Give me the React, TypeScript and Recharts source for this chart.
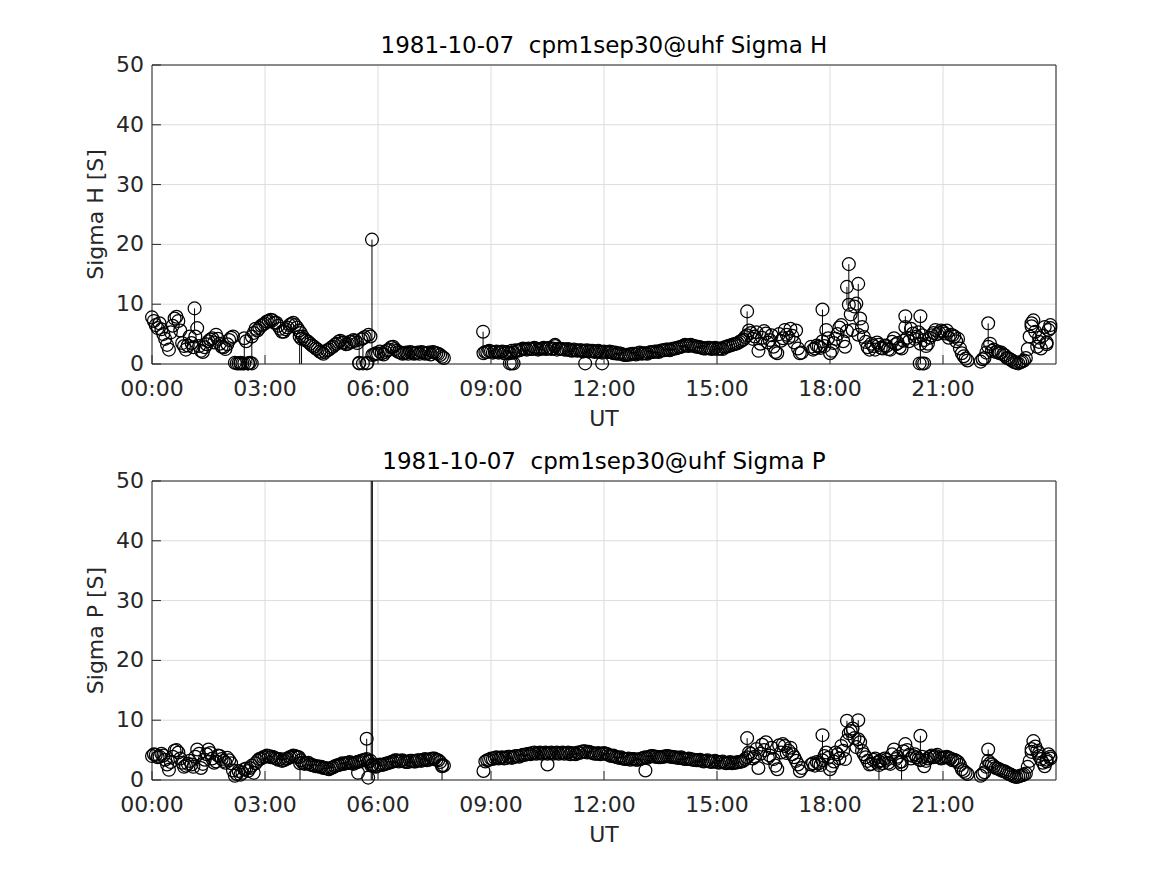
import { ScatterChart, Scatter, XAxis, YAxis, CartesianGrid, ErrorBar } from 'recharts';

const FONT = '"DejaVu Sans", sans-serif';
const INK = '#262626';
const W = 1167;
const H = 437;

// sample times, decimal UT hours (first pass of the record)
const hours = [
  0, 0.1, 0.2, 0.3, 0.4, 0.5, 0.6, 0.7, 0.8, 0.9,
  1.0, 1.1, 1.2, 1.3, 1.4, 1.5, 1.6, 1.7, 1.8, 1.9,
  2.0, 2.1, 2.2, 2.3, 2.4, 2.5, 2.6, 2.7, 2.8, 2.9,
  3.0, 3.1, 3.2, 3.3, 3.4, 3.5, 3.6, 3.7, 3.8, 3.9,
  4.0, 4.1, 4.2, 4.3, 4.4, 4.5, 4.6, 4.7, 4.8, 4.9,
  5.0, 5.1, 5.2, 5.3, 5.4, 5.5, 5.6, 5.7, 5.8, 5.9,
  6.0, 6.1, 6.2, 6.3, 6.4, 6.5, 6.6, 6.7, 6.8, 6.9,
  7.0, 7.1, 7.2, 7.3, 7.4, 7.5, 7.6, 7.7,
  8.8, 8.9, 9.0, 9.1, 9.2, 9.3, 9.4, 9.5, 9.6, 9.7,
  9.8, 9.9, 10.0, 10.1, 10.2, 10.3, 10.4, 10.5, 10.6, 10.7,
  10.8, 10.9, 11.0, 11.1, 11.2, 11.3, 11.4, 11.5, 11.6, 11.7,
  11.8, 11.9, 12.0, 12.1, 12.2, 12.3, 12.4, 12.5, 12.6, 12.7,
  12.8, 12.9, 13.0, 13.1, 13.2, 13.3, 13.4, 13.5, 13.6, 13.7,
  13.8, 13.9, 14.0, 14.1, 14.2, 14.3, 14.4, 14.5, 14.6, 14.7,
  14.8, 14.9, 15.0, 15.1, 15.2, 15.3, 15.4, 15.5, 15.6, 15.7,
  15.8, 15.9, 16.0, 16.1, 16.2, 16.3, 16.4, 16.5, 16.6, 16.7,
  16.8, 16.9, 17.0, 17.1, 17.2,
  17.5, 17.6, 17.7, 17.8, 17.9, 18.0, 18.1, 18.2, 18.3, 18.4,
  18.5, 18.6, 18.7, 18.8, 18.9, 19.0, 19.1, 19.2, 19.3, 19.4,
  19.5, 19.6, 19.7, 19.8, 19.9, 20.0, 20.1, 20.2, 20.3, 20.4,
  20.5, 20.6, 20.7, 20.8, 20.9, 21.0, 21.1, 21.2, 21.3, 21.4,
  21.5, 21.6,
  22.0, 22.1, 22.2, 22.3, 22.4, 22.5, 22.6, 22.7, 22.8, 22.9,
  23.0, 23.1, 23.2, 23.3, 23.4, 23.5, 23.6, 23.7, 23.8,
];

const sigmaH = [
  7.8, 6.5, 6.8, 5.0, 3.2, 5.3, 7.6, 7.2, 3.5, 2.4,
  4.6, 2.8, 6.0, 2.2, 2.8, 3.8, 4.3, 4.9, 3.4, 2.8,
  3.3, 4.4, 0.2, 0.1, 0.1, 3.8, 0.2, 5.2, 5.6, 6.4,
  6.8, 7.2, 7.3, 6.9, 5.9, 5.4, 6.1, 6.7, 6.5, 5.6,
  4.6, 3.9, 3.4, 2.9, 2.4, 1.9, 2.0, 2.4, 2.9, 3.4,
  3.9, 3.6, 3.4, 3.7, 3.9, 0.2, 4.3, 0.1, 4.6, 1.6,
  1.7, 1.8, 2.0, 2.4, 2.9, 2.2, 1.9, 1.8, 1.7, 1.9,
  1.8, 1.7, 1.9, 1.8, 1.6, 1.9, 1.7, 1.2,
  1.8, 2.0, 2.1, 2.0, 1.9, 2.1, 2.0, 1.8, 1.9, 2.2,
  2.4, 2.5, 2.6, 2.5, 2.6, 2.5, 2.7, 2.6, 2.5, 3.0,
  2.6, 2.5, 2.4, 2.3, 2.4, 2.2, 2.3, 2.2, 2.1, 2.2,
  2.1, 2.0, 2.1, 2.0, 2.0, 1.9, 1.8, 1.6, 1.5, 1.6,
  1.7, 1.8, 1.7, 1.8, 1.9, 2.0, 2.1, 2.2, 2.3, 2.4,
  2.5, 2.6, 2.8, 3.0, 3.1, 3.2, 3.0, 2.9, 2.7, 2.6,
  2.7, 2.6, 2.5, 2.6, 2.8, 3.0, 3.2, 3.4, 3.7, 4.1,
  4.8, 5.2, 4.6, 2.2, 4.4, 5.1, 4.0, 2.9, 1.8, 3.9,
  5.7, 4.4, 4.7, 5.6, 1.8,
  2.9, 2.6, 2.9, 3.8, 5.7, 1.8, 3.5, 5.0, 6.5, 2.9,
  9.9, 5.7, 10.1, 7.6, 4.5, 2.8, 3.4, 2.4, 3.2, 2.6,
  3.0, 2.4, 4.3, 3.5, 2.6, 6.2, 3.8, 5.1, 4.6, 3.4,
  4.0, 3.4, 4.8, 5.7, 5.2, 5.4, 5.6, 4.9, 4.6, 4.2,
  1.8, 0.9,
  0.4, 1.0, 2.9, 2.2, 2.0, 1.8, 1.6, 1.0, 0.7, 0.3,
  0.1, 0.4, 1.0, 4.6, 7.3, 2.9, 2.6, 6.2, 5.7,
];

const sigmaP = [
  4.0, 4.2, 3.9, 4.1, 2.6, 3.0, 4.9, 4.6, 2.9, 2.4,
  3.2, 2.2, 5.1, 2.0, 3.4, 5.1, 3.6, 3.1, 4.0, 3.2,
  3.7, 2.8, 0.7, 1.5, 1.2, 1.9, 2.0, 1.2, 3.2, 3.6,
  3.9, 4.0, 3.9, 3.6, 3.5, 3.3, 3.6, 3.9, 4.0, 3.8,
  2.9, 2.8, 2.6, 2.4, 2.3, 2.2, 2.0, 1.8, 2.1, 2.4,
  2.6, 2.7, 2.9, 2.8, 2.9, 3.1, 3.3, 3.5, 3.2, 2.3,
  2.4, 2.5, 2.7, 2.9, 3.1, 3.3, 3.2, 3.1, 3.0, 3.2,
  3.1, 3.3, 3.4, 3.3, 3.5, 3.6, 3.3, 2.5,
  1.5, 3.3, 3.6, 3.7, 3.6, 3.8, 3.7, 3.9, 3.8, 4.0,
  4.1, 4.2, 4.4, 4.5, 4.4, 4.6, 4.5, 4.4, 4.6, 4.5,
  4.4, 4.6, 4.5, 4.3, 4.4, 4.6, 4.7, 4.8, 4.7, 4.5,
  4.4, 4.3, 4.5, 4.3, 4.0, 3.9, 3.7, 3.6, 3.5, 3.4,
  3.5, 3.4, 3.6, 3.8, 3.9, 4.0, 3.9, 3.8, 3.9, 4.0,
  3.9, 3.8, 3.7, 3.6, 3.5, 3.5, 3.4, 3.3, 3.2, 3.2,
  3.1, 3.1, 3.0, 3.0, 2.9, 2.9, 2.8, 2.9, 3.0, 3.2,
  3.8, 4.4, 3.9, 2.0, 5.9, 6.3, 4.1, 3.5, 1.8, 4.6,
  5.7, 4.9, 4.3, 3.2, 1.5,
  2.6, 2.4, 2.8, 3.3, 4.6, 1.8, 3.1, 4.3, 5.7, 3.5,
  7.8, 8.6, 5.5, 6.3, 4.3, 3.2, 2.7, 3.6, 3.1, 2.8,
  3.4, 2.7, 5.1, 3.9, 3.1, 6.0, 4.2, 4.0, 3.8, 3.3,
  2.3, 3.6, 4.1, 4.0, 3.8, 3.7, 3.9, 3.6, 3.4, 3.0,
  1.8, 1.2,
  0.7, 1.3, 3.2, 2.6, 2.0, 1.8, 1.5, 1.2, 0.9, 0.6,
  0.6, 0.8, 1.1, 3.2, 6.5, 4.9, 3.5, 2.3, 4.3,
];

// second pass, samples in between the first ones
const hoursB = [
  0.05, 0.15, 0.25, 0.35, 0.45, 0.55, 0.65, 0.75, 0.85, 0.95,
  1.05, 1.15, 1.25, 1.35, 1.45, 1.55, 1.65, 1.75, 1.85, 1.95,
  2.05, 2.15, 2.25, 2.35, 2.45, 2.55, 2.65, 2.75, 2.85, 2.95,
  3.05, 3.15, 3.25, 3.35, 3.45, 3.55, 3.65, 3.75, 3.85, 3.95,
  4.05, 4.15, 4.25, 4.35, 4.45, 4.55, 4.65, 4.75, 4.85, 4.95,
  5.05, 5.15, 5.25, 5.35, 5.45, 5.55, 5.65, 5.75, 5.85, 5.95,
  6.05, 6.15, 6.25, 6.35, 6.45, 6.55, 6.65, 6.75, 6.85, 6.95,
  7.05, 7.15, 7.25, 7.35, 7.45, 7.55, 7.65, 7.75,
  8.85, 8.95, 9.05, 9.15, 9.25, 9.35, 9.45, 9.55, 9.65, 9.75,
  9.85, 9.95, 10.05, 10.15, 10.25, 10.35, 10.45, 10.55, 10.65, 10.75,
  10.85, 10.95, 11.05, 11.15, 11.25, 11.35, 11.45, 11.55, 11.65, 11.75,
  11.85, 11.95, 12.05, 12.15, 12.25, 12.35, 12.45, 12.55, 12.65, 12.75,
  12.85, 12.95, 13.05, 13.15, 13.25, 13.35, 13.45, 13.55, 13.65, 13.75,
  13.85, 13.95, 14.05, 14.15, 14.25, 14.35, 14.45, 14.55, 14.65, 14.75,
  14.85, 14.95, 15.05, 15.15, 15.25, 15.35, 15.45, 15.55, 15.65, 15.75,
  15.85, 15.95, 16.05, 16.15, 16.25, 16.35, 16.45, 16.55, 16.65, 16.75,
  16.85, 16.95, 17.05, 17.15, 17.25,
  17.55, 17.65, 17.75, 17.85, 17.95, 18.05, 18.15, 18.25, 18.35, 18.45,
  18.55, 18.65, 18.75, 18.85, 18.95, 19.05, 19.15, 19.25, 19.35, 19.45,
  19.55, 19.65, 19.75, 19.85, 19.95, 20.05, 20.15, 20.25, 20.35, 20.45,
  20.55, 20.65, 20.75, 20.85, 20.95, 21.05, 21.15, 21.25, 21.35, 21.45,
  21.55, 21.65,
  22.05, 22.15, 22.25, 22.35, 22.45, 22.55, 22.65, 22.75, 22.85, 22.95,
  23.05, 23.15, 23.25, 23.35, 23.45, 23.55, 23.65, 23.75, 23.85,
];

const sigmaHB = [
  7.2, 6.0, 5.8, 4.2, 2.4, 6.4, 7.9, 5.6, 3.0, 3.1,
  3.5, 4.6, 3.0, 2.0, 3.3, 4.1, 3.6, 4.2, 2.9, 2.5,
  4.0, 4.6, 0.1, 0.2, 4.3, 0.1, 4.6, 5.9, 6.0, 6.6,
  7.1, 7.4, 6.9, 6.4, 5.4, 5.8, 6.5, 6.9, 6.1, 5.2,
  4.1, 3.7, 3.1, 2.6, 2.1, 1.7, 2.3, 2.7, 3.2, 3.7,
  3.6, 3.3, 3.7, 4.0, 3.5, 4.1, 4.5, 4.9, 1.5, 1.8,
  2.1, 1.6, 2.3, 2.8, 2.5, 2.0, 1.7, 1.9, 2.0, 1.7,
  1.9, 2.0, 1.7, 1.9, 2.0, 1.8, 1.5, 1.0,
  2.0, 2.2, 1.9, 2.1, 2.0, 1.8, 1.9, 2.2, 2.3, 2.3,
  2.6, 2.4, 2.5, 2.7, 2.4, 2.6, 2.5, 2.7, 2.6, 2.4,
  2.5, 2.4, 2.5, 2.2, 2.3, 2.3, 2.1, 2.3, 2.2, 2.0,
  2.2, 1.9, 2.0, 2.1, 1.8, 1.7, 1.7, 1.5, 1.6, 1.7,
  1.6, 1.9, 1.8, 1.7, 2.0, 2.1, 2.0, 2.3, 2.4, 2.3,
  2.6, 2.7, 2.9, 3.2, 3.0, 3.1, 2.9, 2.8, 2.6, 2.7,
  2.5, 2.7, 2.6, 2.5, 2.9, 3.1, 3.3, 3.5, 3.9, 4.5,
  5.6, 4.2, 5.3, 3.4, 5.5, 3.6, 4.8, 2.0, 5.0, 4.3,
  4.9, 5.9, 3.6, 2.6, 1.9,
  2.4, 3.1, 2.7, 3.0, 4.3, 2.2, 4.2, 6.1, 3.8, 5.5,
  8.3, 9.6, 4.9, 6.2, 3.7, 2.4, 3.0, 3.6, 2.7, 3.1,
  2.5, 3.7, 3.3, 2.8, 3.9, 4.4, 5.9, 4.2, 5.3, 4.8,
  3.0, 4.4, 5.2, 5.0, 5.6, 5.1, 4.4, 4.8, 3.8, 2.6,
  1.3, 0.6,
  0.8, 1.9, 3.4, 2.4, 2.1, 1.9, 1.4, 0.9, 0.5, 0.2,
  0.3, 0.6, 2.5, 6.8, 5.4, 3.7, 4.7, 3.6, 6.0,
];

const sigmaPB = [
  4.3, 3.8, 4.4, 3.4, 1.7, 3.9, 5.0, 3.6, 2.2, 2.7,
  2.6, 3.9, 4.4, 2.7, 4.3, 4.5, 2.9, 4.1, 3.5, 2.9,
  3.3, 1.6, 1.0, 0.9, 1.8, 1.5, 2.4, 2.8, 3.5, 3.8,
  4.1, 3.8, 3.7, 3.4, 3.2, 3.5, 3.8, 4.1, 3.9, 3.3,
  2.7, 2.9, 2.5, 2.3, 2.2, 2.0, 1.9, 2.0, 2.3, 2.5,
  2.8, 2.8, 3.0, 2.7, 3.0, 3.2, 3.4, 3.1, 2.5, 2.2,
  2.6, 2.6, 2.8, 3.0, 3.3, 3.1, 3.3, 3.0, 3.2, 3.1,
  3.3, 3.2, 3.5, 3.4, 3.6, 3.4, 3.0, 2.4,
  3.1, 3.4, 3.5, 3.8, 3.7, 3.6, 3.9, 3.7, 4.0, 3.9,
  4.2, 4.3, 4.3, 4.6, 4.5, 4.4, 4.6, 4.5, 4.4, 4.6,
  4.5, 4.4, 4.6, 4.5, 4.3, 4.5, 4.8, 4.6, 4.6, 4.4,
  4.5, 4.4, 4.4, 4.1, 4.1, 3.8, 3.8, 3.5, 3.6, 3.5,
  3.4, 3.5, 3.7, 3.7, 4.0, 3.9, 3.8, 3.9, 4.0, 3.9,
  3.8, 3.7, 3.8, 3.5, 3.6, 3.4, 3.3, 3.4, 3.1, 3.3,
  3.0, 3.2, 2.9, 3.1, 2.8, 3.0, 2.9, 3.0, 3.1, 3.5,
  4.6, 3.6, 5.2, 4.4, 5.0, 3.7, 5.4, 2.4, 5.8, 6.0,
  4.5, 5.4, 3.8, 2.6, 2.0,
  2.8, 3.0, 2.5, 4.0, 3.7, 2.4, 4.6, 3.6, 4.9, 6.6,
  8.2, 7.0, 6.8, 4.9, 3.8, 2.6, 3.4, 2.9, 3.3, 3.6,
  2.9, 4.3, 3.5, 3.0, 4.8, 5.0, 3.6, 4.3, 3.5, 3.9,
  3.2, 3.9, 3.8, 4.2, 3.6, 3.8, 3.7, 3.3, 3.2, 2.5,
  1.5, 1.0,
  1.0, 2.2, 2.8, 2.3, 1.9, 1.6, 1.4, 1.0, 0.7, 0.5,
  0.7, 0.9, 2.2, 4.7, 5.6, 4.0, 2.9, 3.4, 3.9,
];

// outliers and points with visible error bars (lower / upper extent)
const extraHoursH = [1.13, 2.35, 2.45, 2.55, 2.65, 3.92, 3.97, 5.5, 5.6, 5.72, 5.84, 8.79, 9.5, 9.55, 9.6, 10.7, 11.5, 11.95, 15.8, 17.8, 18.45, 18.5, 18.75, 20.0, 20.38, 20.4, 20.45, 20.5, 22.2, 23.35, 23.55, 23.75, 23.85];
const extraH = [9.3, 0.1, 0.1, 0.1, 0.1, 4.6, 4.2, 0.1, 0.1, 0.2, 20.8, 5.4, 0.1, 0.1, 0.1, 3.2, 0.1, 0.1, 8.8, 9.1, 12.9, 16.7, 13.4, 8.0, 0.1, 8.0, 0.1, 0.1, 6.8, 6.3, 4.4, 3.3, 6.5];
const extraLowH = [3.6, 0, 0, 0, 0, 4.6, 4.2, 0, 0, 0, 19.0, 3.5, 0, 0, 0, 0, 0, 0, 4.0, 6.0, 3.0, 7.0, 7.0, 3.0, 0, 8.0, 0, 0, 3.5, 0, 0, 0, 0];
const extraHighH = [0, 0, 4.5, 0, 4.8, 0, 0, 4.0, 3.8, 0, 0, 0, 0, 0, 0, 0, 0, 0, 0, 0, 0, 0, 0, 0, 0, 0, 0, 0, 0, 0, 0, 0, 0];

// the two samples near 05:50 whose error bars run off the top of the axes
const extraHoursP = [3.93, 5.47, 5.7, 5.74, 5.82, 5.85, 7.7, 10.5, 13.1, 15.8, 17.8, 18.45, 18.75, 19.3, 19.9, 20.4, 22.2, 23.35, 23.55, 23.75, 23.85];
const extraP = [2.8, 1.2, 6.9, 0.4, 2.4, 2.6, 2.3, 2.6, 1.6, 7.0, 7.5, 9.9, 10.0, 2.5, 2.6, 7.4, 5.1, 5.2, 4.5, 3.1, 3.6];
const extraLowP = [2.8, 0, 3.0, 0, 2.4, 2.6, 2.3, 0, 0, 3.0, 4.5, 3.0, 5.0, 2.5, 2.6, 4.0, 2.0, 0, 0, 0, 0];
const extraHighP = [0, 0, 0, 0, 47.6, 47.4, 0, 0, 0, 0, 0, 0, 0, 0, 0, 0, 0, 0, 0, 0, 0];

const majorHours = [0, 3, 6, 9, 12, 15, 18, 21];
const minorHours = [0, 0.5, 1, 1.5, 2, 2.5, 3, 3.5, 4, 4.5, 5, 5.5, 6, 6.5, 7, 7.5, 8, 8.5, 9, 9.5, 10, 10.5, 11, 11.5, 12, 12.5, 13, 13.5, 14, 14.5, 15, 15.5, 16, 16.5, 17, 17.5, 18, 18.5, 19, 19.5, 20, 20.5, 21, 21.5, 22, 22.5, 23, 23.5, 24];
const majorValues = [0, 10, 20, 30, 40, 50];
const minorValues = [0, 2, 4, 6, 8, 10, 12, 14, 16, 18, 20, 22, 24, 26, 28, 30, 32, 34, 36, 38, 40, 42, 44, 46, 48, 50];

type Pt = { h: number; v: number; err?: number[] };

const toPts = (hs: number[], vs: number[], lo?: number[], hi?: number[]): Pt[] =>
  hs.map((h, i) => ({ h, v: vs[i], err: lo ? [lo[i], hi ? hi[i] : 0] : undefined }));

const MAJOR = 9;
const MINOR = 5;

const fmtHour = (h: number) => `${String(h).padStart(2, '0')}:00`;

const ring = (p: any) => <circle cx={p.cx} cy={p.cy} r={6.4} fill="none" stroke="#000" strokeWidth={1.25} />;

const bottomTick = (p: any) => (
  <g>
    <line x1={p.x} x2={p.x} y1={p.y} y2={p.y - MAJOR} stroke={INK} />
    <text x={p.x} y={p.y + 32} textAnchor="middle" fill={INK} fontSize={22} fontFamily={FONT}>
      {fmtHour(p.payload.value)}
    </text>
  </g>
);
const bottomMinorTick = (p: any) => <line x1={p.x} x2={p.x} y1={p.y - 1} y2={p.y - 1 - MINOR} stroke={INK} />;
const topTick = (p: any) => {
  const len = p.payload.value % 3 === 0 ? MAJOR : MINOR;
  return <line x1={p.x} x2={p.x} y1={p.y} y2={p.y + len} stroke={INK} />;
};
const leftTick = (p: any) => (
  <g>
    <line x1={p.x} x2={p.x + MAJOR} y1={p.y} y2={p.y} stroke={INK} />
    <text x={p.x - 8} y={p.y} dy="0.32em" textAnchor="end" fill={INK} fontSize={22} fontFamily={FONT}>
      {p.payload.value}
    </text>
  </g>
);
const leftMinorTick = (p: any) => <line x1={p.x + 1} x2={p.x + 1 + MINOR} y1={p.y} y2={p.y} stroke={INK} />;
const rightTick = (p: any) => {
  const len = p.payload.value % 10 === 0 ? MAJOR : MINOR;
  return <line x1={p.x} x2={p.x - len} y1={p.y} y2={p.y} stroke={INK} />;
};

const axisBase = { tickLine: false, tickSize: 0, tickMargin: 0, interval: 0 as const };

function Panel({ top, title, yLabel, band, extra }: {
  top: number; title: string; yLabel: string; band: Pt[]; extra: Pt[];
}) {
  return (
    <div style={{ position: 'absolute', left: 0, top, width: W, height: H }}>
      <ScatterChart width={W} height={H} margin={{ top: 64, right: 110, bottom: 71, left: 150 }}>
        <CartesianGrid stroke="#dcdcdc" />
        <XAxis
          type="number" dataKey="h" domain={[0, 24]} ticks={majorHours} height={1} {...axisBase}
          axisLine={{ stroke: INK }} tick={bottomTick}
          label={{
            content: (p: any) => (
              <text x={p.viewBox.x + p.viewBox.width / 2} y={p.viewBox.y + 62} textAnchor="middle" fill={INK} fontSize={22} fontFamily={FONT}>
                UT
              </text>
            ),
          }}
        />
        <XAxis xAxisId="xm" type="number" domain={[0, 24]} ticks={minorHours} height={1} {...axisBase} axisLine={false} tick={bottomMinorTick} />
        <XAxis
          xAxisId="xt" orientation="top" type="number" domain={[0, 24]} ticks={minorHours} height={1} {...axisBase}
          axisLine={{ stroke: INK }} tick={topTick}
          label={{
            content: (p: any) => (
              <text
                x={p.viewBox.x + p.viewBox.width / 2} y={p.viewBox.y - 11} textAnchor="middle" fill="#000"
                fontSize={23} fontFamily={FONT} style={{ whiteSpace: 'pre' }}
              >
                {title}
              </text>
            ),
          }}
        />
        <YAxis
          type="number" dataKey="v" domain={[0, 50]} ticks={majorValues} width={1} {...axisBase}
          axisLine={{ stroke: INK }} tick={leftTick}
          label={{
            content: (p: any) => {
              const cx = p.viewBox.x - 48;
              const cy = p.viewBox.y + p.viewBox.height / 2;
              return (
                <text x={cx} y={cy} transform={`rotate(-90 ${cx} ${cy})`} textAnchor="middle" fill={INK} fontSize={22} fontFamily={FONT}>
                  {yLabel}
                </text>
              );
            },
          }}
        />
        <YAxis yAxisId="ym" type="number" domain={[0, 50]} ticks={minorValues} width={1} {...axisBase} axisLine={false} tick={leftMinorTick} />
        <YAxis yAxisId="yr" orientation="right" type="number" domain={[0, 50]} ticks={minorValues} width={1} {...axisBase} axisLine={{ stroke: INK }} tick={rightTick} />
        <Scatter data={band} shape={ring} isAnimationActive={false} />
        <Scatter data={extra} shape={ring} isAnimationActive={false}>
          <ErrorBar dataKey="err" direction="y" width={0} stroke="#000" strokeWidth={1} isAnimationActive={false} />
        </Scatter>
      </ScatterChart>
    </div>
  );
}

export default function App() {
  return (
    <div style={{ position: 'absolute', left: 0, top: 0, width: W, height: 875, background: '#fff' }}>
      <Panel
        top={0}
        title="1981-10-07  cpm1sep30@uhf Sigma H"
        yLabel="Sigma H [S]"
        band={[...toPts(hours, sigmaH), ...toPts(hoursB, sigmaHB)]}
        extra={toPts(extraHoursH, extraH, extraLowH, extraHighH)}
      />
      <Panel
        top={416}
        title="1981-10-07  cpm1sep30@uhf Sigma P"
        yLabel="Sigma P [S]"
        band={[...toPts(hours, sigmaP), ...toPts(hoursB, sigmaPB)]}
        extra={toPts(extraHoursP, extraP, extraLowP, extraHighP)}
      />
    </div>
  );
}
